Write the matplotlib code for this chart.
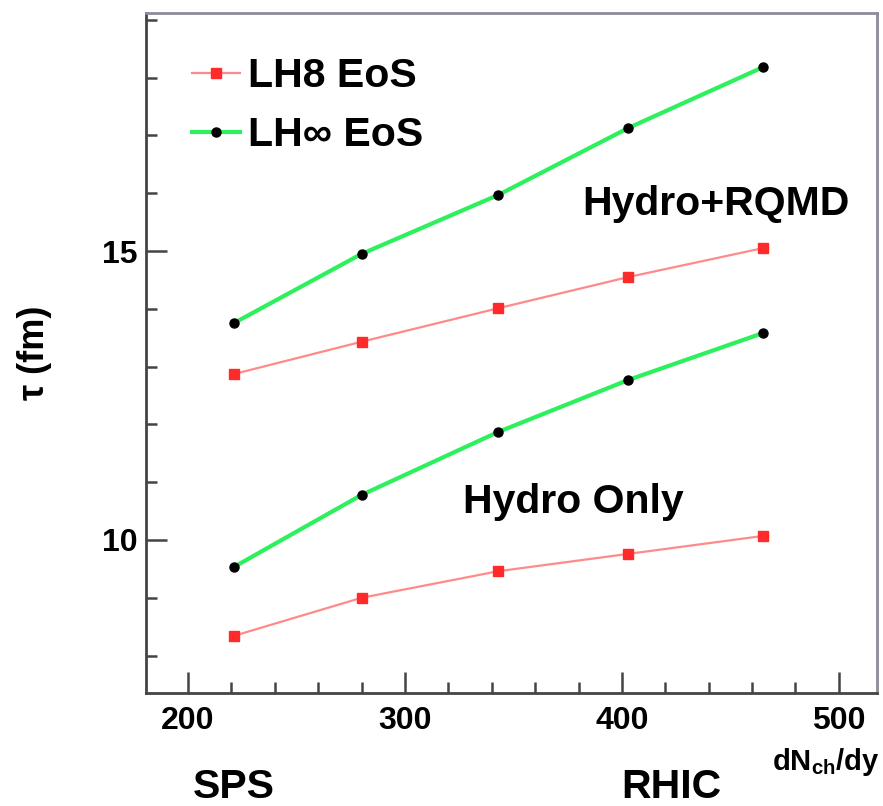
import numpy as np
import matplotlib
matplotlib.use("Agg")
import matplotlib.pyplot as plt
from matplotlib.ticker import MultipleLocator

plt.rcParams['font.family'] = ['Liberation Sans', 'DejaVu Sans']
plt.rcParams['font.weight'] = 'bold'
plt.rcParams['mathtext.fontset'] = 'custom'
plt.rcParams['mathtext.rm'] = 'Liberation Sans:bold'
plt.rcParams['mathtext.it'] = 'Liberation Sans:bold'

# dN_ch/dy values and freeze-out times (fm)
dndy = [221, 280, 343, 403, 465]
lh8_rqmd = [12.87, 13.43, 14.01, 14.55, 15.05]
lhinf_rqmd = [13.75, 14.95, 15.97, 17.13, 18.18]
lh8_hydro = [8.34, 9.00, 9.46, 9.76, 10.07]
lhinf_hydro = [9.53, 10.78, 11.87, 12.77, 13.58]

red_line = '#ff8a8a'
red_mark = '#ff2a2a'
green = '#2cf05c'

fig = plt.figure(figsize=(8.83, 8.06), dpi=100)
ax = fig.add_axes([0.165, 0.140, 0.828, 0.844])

l1, = ax.plot(dndy, lh8_rqmd, '-', color=red_line, lw=1.6,
              marker='s', ms=6.5, mfc=red_mark, mec=red_mark, label='LH8 EoS')
l2, = ax.plot(dndy, lhinf_rqmd, '-', color=green, lw=3.0,
              marker='o', ms=6.5, mfc='black', mec='black', label='LH\u221e EoS')
ax.plot(dndy, lh8_hydro, '-', color=red_line, lw=1.6,
        marker='s', ms=6.5, mfc=red_mark, mec=red_mark)
ax.plot(dndy, lhinf_hydro, '-', color=green, lw=3.0,
        marker='o', ms=6.5, mfc='black', mec='black')

ax.set_xlim(180.5, 517.5)
ax.set_ylim(7.35, 19.12)

ax.xaxis.set_major_locator(MultipleLocator(100))
ax.xaxis.set_minor_locator(MultipleLocator(20))
ax.yaxis.set_major_locator(MultipleLocator(5))
ax.yaxis.set_minor_locator(MultipleLocator(1))
ax.tick_params(which='both', direction='in', top=False, right=False,
               color='#444444', labelsize=23)
ax.tick_params(which='major', length=15, width=1.8)
ax.tick_params(which='minor', length=8, width=1.8)
ax.tick_params(axis='x', which='major', pad=9)
ax.tick_params(axis='y', which='major', pad=6)

for side in ['left', 'bottom']:
    ax.spines[side].set_color('#444444')
    ax.spines[side].set_linewidth(2.0)
for side in ['top', 'right']:
    ax.spines[side].set_color('#8c8c9a')
    ax.spines[side].set_linewidth(2.0)

ax.set_ylabel('\u03c4 (fm)', fontsize=26, fontweight='bold')
ax.yaxis.set_label_coords(-0.128, 0.5)

ax.text(381.6, 15.62, 'Hydro+RQMD', fontsize=29.5, fontweight='bold', va='baseline')
ax.text(326.7, 10.47, 'Hydro Only', fontsize=29.5, fontweight='bold', va='baseline')

leg = ax.legend(handles=[l1, l2], loc='upper left', bbox_to_anchor=(0.064, 0.935),
                frameon=False, fontsize=29.5, handlelength=1.15, handletextpad=0.2,
                labelspacing=0.52, borderpad=0, borderaxespad=0)

fig.text(880 / 883, 1 - 770 / 806, 'dN$_{ch}$/dy', fontsize=21, ha='right', va='baseline')
fig.text(193 / 883, 1 - 798 / 806, 'SPS', fontsize=29.5, va='baseline')
fig.text(621 / 883, 1 - 798 / 806, 'RHIC', fontsize=29.5, va='baseline')

fig.savefig('out.png', dpi=100)
